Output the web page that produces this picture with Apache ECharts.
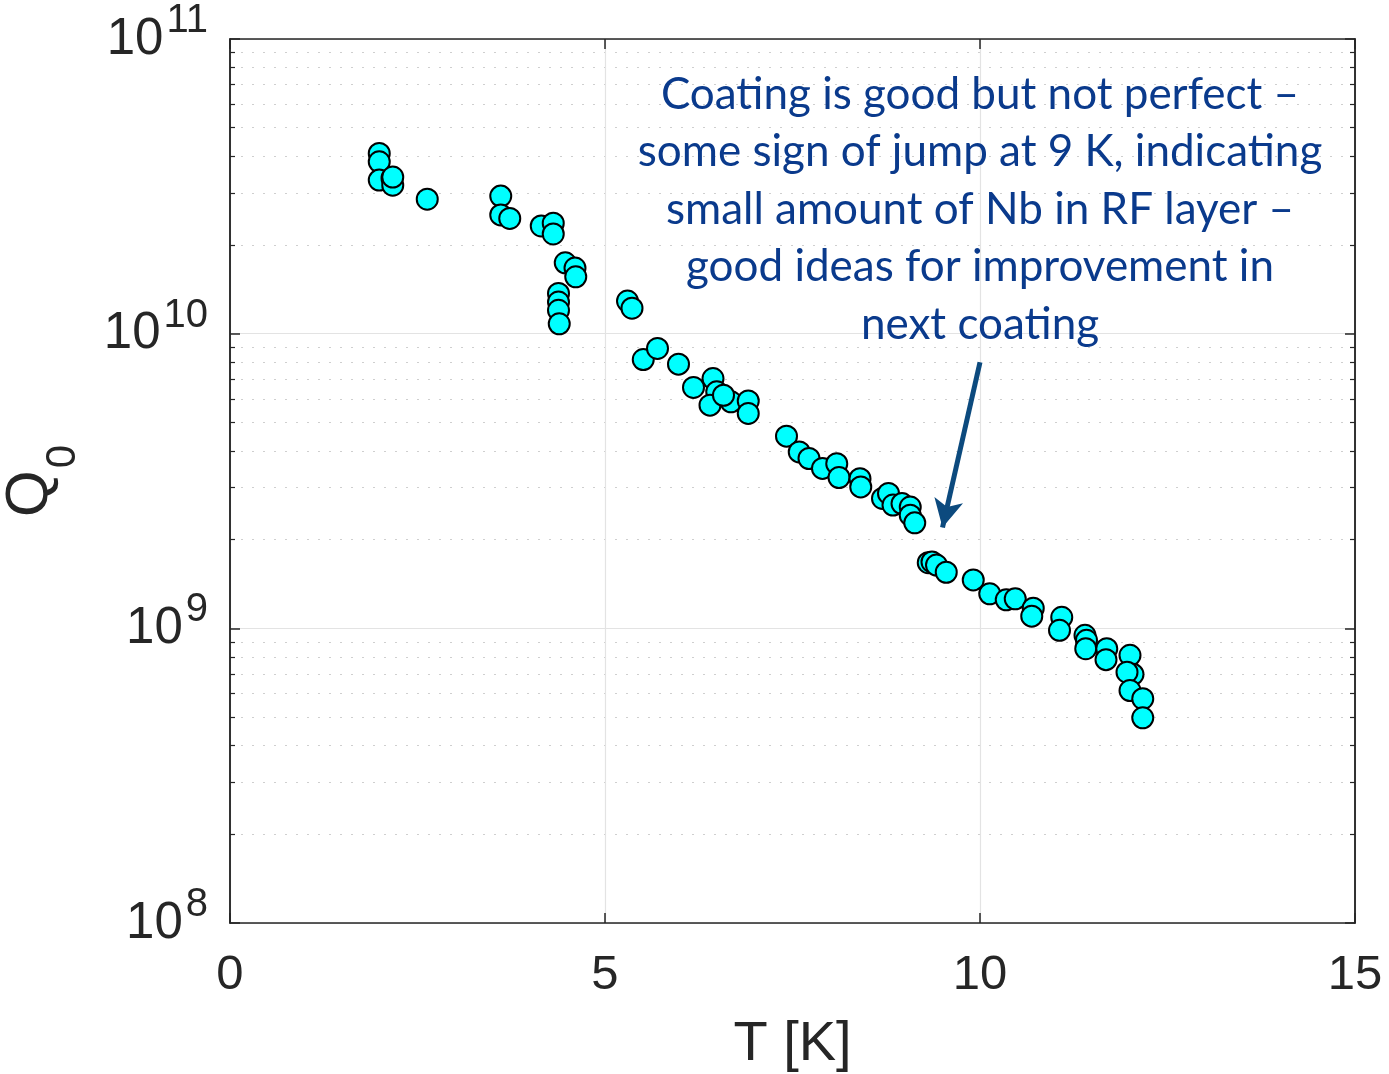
<!DOCTYPE html>
<html>
<head>
<meta charset="utf-8">
<script src="https://cdn.jsdelivr.net/npm/echarts@6/dist/echarts.min.js"></script>
<style>html,body{margin:0;padding:0;background:#fff;}#c{width:1389px;height:1074px;}</style>
</head>
<body>
<div id="c"></div>
<script>
// Temperature T [K]
var tempK = [1.99,1.99,1.99,2.16,2.17,2.17,2.63,3.61,3.61,3.73,4.15,4.31,4.31,4.47,4.60,4.61,4.38,4.38,4.38,4.39,5.30,5.36,
  5.51,5.70,5.98,6.18,6.44,6.49,6.40,6.68,6.58,6.91,6.91,7.42,7.59,7.72,7.90,8.09,8.12,8.40,8.41,8.70,8.78,8.84,8.96,9.07,9.07,9.13,
  9.31,9.36,9.42,9.55,9.91,10.13,10.35,10.47,10.71,10.69,11.09,11.06,11.40,11.42,11.41,11.69,11.68,12.00,12.04,11.96,12.00,12.17,12.17];
// Quality factor Q0
var q0 = [4.09e10,3.83e10,3.32e10,3.37e10,3.19e10,3.40e10,2.86e10,2.93e10,2.53e10,2.46e10,2.32e10,2.37e10,2.18e10,1.74e10,1.67e10,1.56e10,1.37e10,1.28e10,1.20e10,1.08e10,1.29e10,1.22e10,
  8.17e9,8.91e9,7.88e9,6.57e9,7.04e9,6.35e9,5.72e9,5.87e9,6.18e9,5.91e9,5.36e9,4.49e9,3.97e9,3.77e9,3.49e9,3.62e9,3.25e9,3.22e9,3.02e9,2.76e9,2.87e9,2.62e9,2.65e9,2.58e9,2.42e9,2.28e9,
  1.67e9,1.68e9,1.64e9,1.55e9,1.46e9,1.31e9,1.25e9,1.26e9,1.17e9,1.10e9,1.09e9,9.85e8,9.47e8,9.11e8,8.53e8,8.53e8,7.83e8,8.10e8,6.98e8,7.10e8,6.15e8,5.77e8,4.97e8];
var xTicks = [0,5,10,15];
var yMajor = [1e8,1e9,1e10,1e11];
var yMinor = [2e8,3e8,4e8,5e8,6e8,7e8,8e8,9e8,2e9,3e9,4e9,5e9,6e9,7e9,8e9,9e9,2e10,3e10,4e10,5e10,6e10,7e10,8e10,9e10];
var noteLines = ['Coating is good but not perfect \u2013','some sign of jump at 9 K, indicating','small amount of Nb in RF layer \u2013','good ideas for improvement in','next coating'];
var arrowFrom = [10.0, 8.0e9];
var arrowTo = [9.5, 2.2e9];

var pts = tempK.map(function(t,i){return [t,q0[i]];});
var axisCol = '#262626';
var gridBox = {left:230, top:39, right:34, bottom:151, outerBoundsMode:'none', containLabel:false};

function yAxisBase(extra){
  var a = {type:'log', logBase:10, min:1e8, max:1e11, axisLine:{show:true, lineStyle:{color:axisCol,width:1.5}},
    axisLabel:{show:false}, splitLine:{show:false}, axisTick:{show:false}};
  for (var k in extra) a[k]=extra[k];
  return a;
}
var supLabel = {
  show:true, margin:22,
  formatter:function(v){ return '{b|10}{e|'+Math.round(Math.log10(v))+'}'; },
  rich:{ b:{fontFamily:'Liberation Sans',fontSize:51,color:axisCol,verticalAlign:'bottom',lineHeight:52},
         e:{fontFamily:'Liberation Sans',fontSize:40,color:axisCol,verticalAlign:'bottom',lineHeight:40,padding:[0,0,24,3]} }
};

var option = {
  animation:false,
  backgroundColor:'#fff',
  grid:gridBox,
  xAxis:[{type:'value', min:0, max:15, interval:5, position:'bottom',
      axisLine:{show:true,onZero:false,lineStyle:{color:axisCol,width:1.5}},
      axisTick:{show:true,inside:true,length:10,lineStyle:{color:axisCol,width:1.5}},
      axisLabel:{show:true,margin:28,fontFamily:'Liberation Sans',fontSize:49,color:axisCol,
        customValues:xTicks, formatter:function(v){return String(v);}},
      splitLine:{show:true,lineStyle:{color:'#e3e3e3',width:1.2}},
      name:'T [K]', nameLocation:'middle', nameGap:94,
      nameTextStyle:{fontFamily:'Liberation Sans',fontSize:56,color:axisCol}},
    {type:'value', min:0, max:15, interval:5, position:'top',
      axisLine:{show:true,onZero:false,lineStyle:{color:axisCol,width:1.5}},
      axisTick:{show:true,inside:true,length:10,lineStyle:{color:axisCol,width:1.5}},
      axisLabel:{show:false}, splitLine:{show:false}}],
  yAxis:[
    yAxisBase({position:'left', axisLabel:supLabel,
      axisTick:{show:true,inside:true,length:10,customValues:yMajor,lineStyle:{color:axisCol,width:1.5}},
      splitLine:{show:true,lineStyle:{color:'#e3e3e3',width:1.2}},
      name:'{q|Q}{s|0}', nameLocation:'middle', nameGap:146, nameRotate:90,
      nameTextStyle:{rich:{q:{fontFamily:'Liberation Sans',fontSize:60,color:axisCol,verticalAlign:'bottom',lineHeight:60,padding:[0,0,24,0]},
                           s:{fontFamily:'Liberation Sans',fontSize:42,color:axisCol,verticalAlign:'bottom',lineHeight:42,padding:[0,0,0,2]}}}}),
    yAxisBase({position:'left',
      axisTick:{show:true,inside:true,length:5,customValues:yMinor,lineStyle:{color:axisCol,width:1.2}},
      splitLine:{show:true,lineStyle:{color:'#cfcfcf',width:1.2,type:[2,9]}}}),
    yAxisBase({position:'right',
      axisTick:{show:true,inside:true,length:10,customValues:yMajor,lineStyle:{color:axisCol,width:1.5}}}),
    yAxisBase({position:'right',
      axisTick:{show:true,inside:true,length:5,customValues:yMinor,lineStyle:{color:axisCol,width:1.2}}})
  ],
  series:[{
    type:'scatter', xAxisIndex:0, yAxisIndex:0, data:pts,
    symbol:'circle', symbolSize:21,
    itemStyle:{color:'#00FFFF', borderColor:'#000', borderWidth:2, opacity:1},
    z:5,
    markLine:{silent:true, symbol:['none','arrow'], symbolSize:[22,28], z:6,
      lineStyle:{color:'#0C4A7E',width:5,type:'solid'}, label:{show:false},
      data:[[{coord:arrowFrom},{coord:arrowTo}]]}
  }],
  graphic:[{type:'text', x:980, y:66, z:10,
    style:{text:noteLines.join('\n'), fill:'#0A3A8C', font:'44px Lato', textAlign:'center', lineHeight:57.5}}]
};
var chart = echarts.init(document.getElementById('c'),null,{renderer:'canvas'});
chart.setOption(option);
</script>
</body>
</html>
